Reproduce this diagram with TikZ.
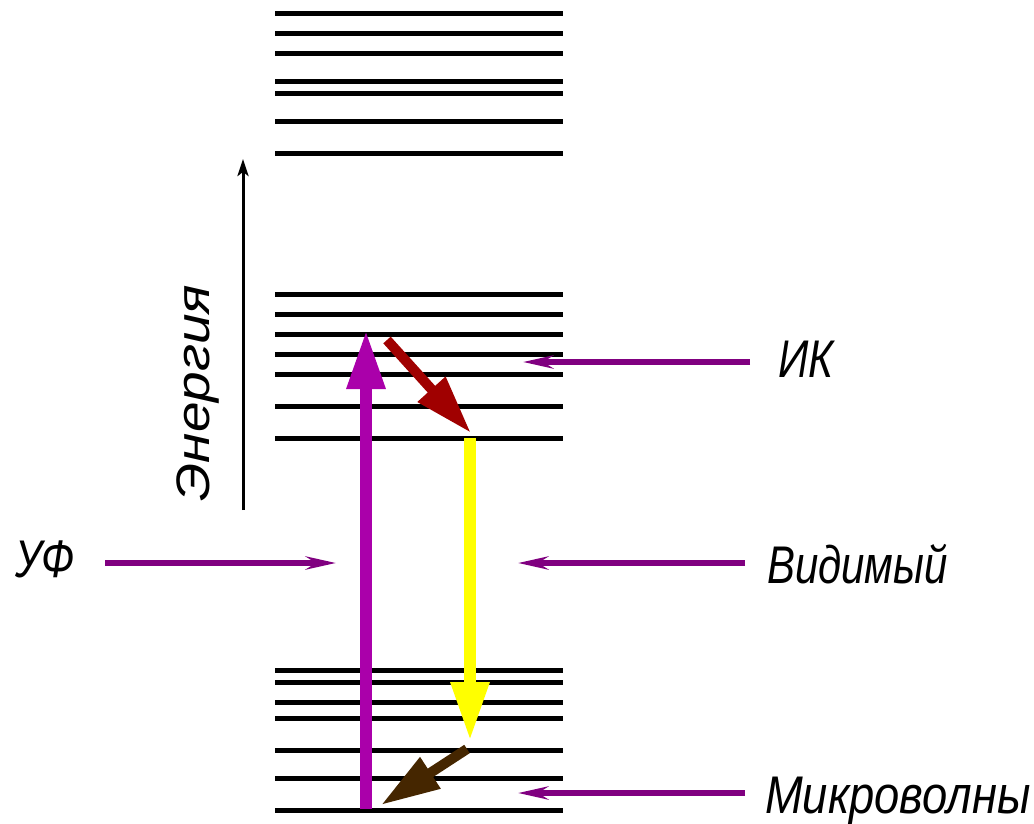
\documentclass[tikz,border=0pt]{standalone}
\usepackage{fontspec}
\usepackage{graphicx}
\setmainfont{Liberation Sans}
\usetikzlibrary{arrows.meta}
\definecolor{uvc}{RGB}{170,0,170}
\definecolor{irc}{RGB}{160,0,0}
\definecolor{mwc}{RGB}{69,38,0}
\definecolor{visc}{RGB}{255,255,0}
\definecolor{thinc}{RGB}{128,0,128}
\newcommand{\narrowtxt}[2][0.79]{\scalebox{#1}[1]{#2}}
\begin{document}
\begin{tikzpicture}[x=1pt,y=-1pt,
  level/.style={line width=5pt},
  bigarrow/.style={line width=12pt,-{Triangle[length=59pt,width=36pt]}},
  diagarrow/.style={line width=10pt,-{Triangle[length=59pt,width=35pt]}},
  probe/.style={thinc,line width=6pt,-{Stealth[length=30pt,width=13pt,inset=10pt]}},
  lbl/.style={font=\fontsize{53}{60}\selectfont\itshape,inner sep=0pt}]
\useasboundingbox (0,0) rectangle (1034,824);
% levels
\foreach \y in {14,34,54,82,94,122,154,294,314,334,354,374,406,438,670,682,702,718,750,778,810}
  \draw[level] (275,\y) -- (563,\y);
% energy axis
\coordinate (ea) at (243,510);
\coordinate (eb) at (243,159);
\draw[line width=3pt,-{Stealth[length=17pt,width=11pt,inset=4pt]}] (ea) -- (eb);
\node[font=\fontsize{47}{52}\selectfont\itshape,rotate=90,inner sep=0pt] (en) at (198,393) {\scalebox{1.17}[1]{Энергия}};
% transitions
\coordinate (uva) at (366,809);
\coordinate (uvb) at (366,330);
\draw[bigarrow,uvc] (uva) -- (uvb);
\coordinate (ira) at (387,340);
\coordinate (irb) at (471,433);
\draw[diagarrow,irc] (ira) -- (irb);
\coordinate (visa) at (470,438);
\coordinate (visb) at (470,741);
\draw[bigarrow,visc] (visa) -- (visb);
\coordinate (mwa) at (467,749);
\coordinate (mwb) at (381,805);
\draw[diagarrow,mwc] (mwa) -- (mwb);
% labels
\node[lbl,anchor=base west] (uf) at (15,577) {\narrowtxt{УФ}};
\node[lbl,anchor=base west] (ik) at (778,377) {\narrowtxt[0.8]{ИК}};
\node[lbl,anchor=base west] (vid) at (767,583) {\narrowtxt{Видимый}};
\node[lbl,anchor=base west] (mic) at (765,813) {\narrowtxt[0.855]{Микроволны}};
\coordinate (ufs) at (105,563);
\coordinate (ufe) at (336,563);
\draw[probe] (ufs) -- (ufe);
\coordinate (iks) at (750,362);
\coordinate (ike) at (523,362);
\draw[probe] (iks) -- (ike);
\coordinate (vids) at (745,563);
\coordinate (vide) at (518,563);
\draw[probe] (vids) -- (vide);
\coordinate (mics) at (745,793);
\coordinate (mice) at (518,793);
\draw[probe] (mics) -- (mice);
\end{tikzpicture}
\end{document}
